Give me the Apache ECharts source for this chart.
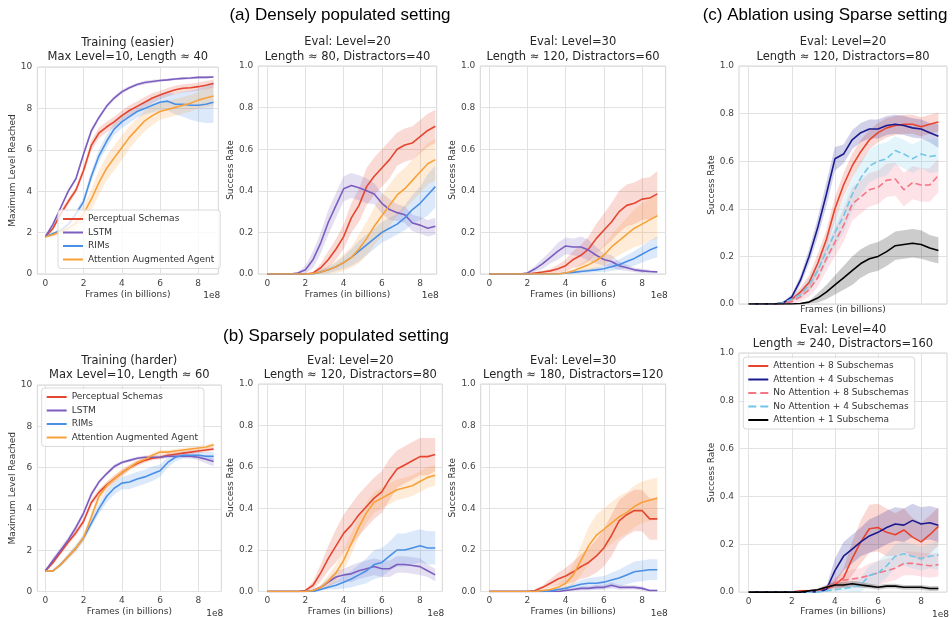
<!DOCTYPE html>
<html><head><meta charset="utf-8">
<script src="https://cdn.jsdelivr.net/npm/echarts/dist/echarts.min.js"></script>
<style>html,body{margin:0;padding:0;background:#fff}#c{width:952px;height:617px}</style>
</head><body><div id="c"></div>
<script>
// ---------- data ----------
const X = [0,0.4,0.8,1.2,1.6,2,2.4,2.8,3.2,3.6,4,4.4,4.8,5.2,5.6,6,6.4,6.8,7.2,7.6,8,8.4,8.8];
const X_TICKS = [0,2,4,6,8];
const NAME_PS = 'Perceptual Schemas', NAME_LSTM = 'LSTM', NAME_RIMS = 'RIMs', NAME_AAA = 'Attention Augmented Agent';
const NAME_A8 = 'Attention + 8 Subschemas', NAME_A4 = 'Attention + 4 Subschemas', NAME_NA8 = 'No Attention + 8 Subschemas', NAME_NA4 = 'No Attention + 4 Subschemas', NAME_A1 = 'Attention + 1 Subschema';

// (a) Training (easier)
const p1_ps     = [1.8,2.2,2.9,3.5,4.05,5.0,6.2,6.8,7.1,7.35,7.65,7.9,8.1,8.3,8.5,8.65,8.78,8.9,8.97,9.0,9.05,9.12,9.2];
const p1_ps_e   = [0.05,0.1,0.15,0.15,0.15,0.2,0.25,0.25,0.25,0.25,0.25,0.25,0.25,0.25,0.25,0.2,0.2,0.2,0.2,0.2,0.2,0.2,0.2];
const p1_lstm   = [1.8,2.4,3.2,4.0,4.6,5.8,6.9,7.55,8.1,8.5,8.8,9.0,9.15,9.25,9.3,9.35,9.38,9.42,9.45,9.47,9.5,9.5,9.52];
const p1_lstm_e = [0.05,0.1,0.1,0.1,0.1,0.15,0.15,0.1,0.1,0.1,0.1,0.08,0.08,0.08,0.08,0.06,0.06,0.06,0.06,0.06,0.06,0.06,0.06];
const p1_rims   = [1.8,1.95,2.1,2.4,2.9,3.5,4.7,5.7,6.4,7.0,7.35,7.6,7.85,8.0,8.15,8.3,8.35,8.2,8.2,8.15,8.15,8.2,8.3];
const p1_rims_e = [0.05,0.05,0.1,0.1,0.15,0.2,0.25,0.3,0.3,0.3,0.3,0.3,0.3,0.3,0.35,0.4,0.45,0.5,0.6,0.7,0.8,0.9,1.0];
const p1_aaa    = [1.8,1.9,2.05,2.2,2.45,2.9,3.6,4.4,5.1,5.6,6.1,6.6,7.0,7.4,7.65,7.85,7.95,8.05,8.15,8.25,8.4,8.5,8.6];
const p1_aaa_e  = [0.05,0.1,0.15,0.2,0.3,0.4,0.5,0.6,0.6,0.6,0.6,0.55,0.5,0.5,0.45,0.4,0.4,0.4,0.4,0.4,0.4,0.45,0.5];

// (a) Eval Level=20
const p2_ps     = [0,0,0,0,0,0,0.005,0.03,0.07,0.12,0.18,0.27,0.33,0.42,0.47,0.51,0.55,0.6,0.62,0.63,0.66,0.69,0.71];
const p2_ps_e   = [0,0,0,0,0,0,0.005,0.02,0.04,0.05,0.06,0.07,0.08,0.09,0.09,0.09,0.09,0.08,0.08,0.08,0.08,0.08,0.08];
const p2_lstm   = [0,0,0,0,0.005,0.02,0.07,0.15,0.25,0.33,0.41,0.425,0.415,0.4,0.385,0.34,0.31,0.295,0.285,0.245,0.235,0.22,0.23];
const p2_lstm_e = [0,0,0,0,0.005,0.02,0.04,0.05,0.06,0.06,0.06,0.06,0.06,0.06,0.05,0.05,0.05,0.04,0.04,0.04,0.04,0.04,0.04];
const p2_rims   = [0,0,0,0,0,0,0,0.01,0.02,0.035,0.055,0.08,0.11,0.14,0.17,0.2,0.22,0.24,0.27,0.31,0.34,0.38,0.42];
const p2_rims_e = [0,0,0,0,0,0,0,0.01,0.015,0.02,0.03,0.04,0.05,0.05,0.05,0.05,0.05,0.05,0.06,0.07,0.08,0.1,0.1];
const p2_aaa    = [0,0,0,0,0,0,0.002,0.01,0.02,0.035,0.055,0.08,0.12,0.17,0.23,0.28,0.33,0.38,0.41,0.45,0.49,0.53,0.55];
const p2_aaa_e  = [0,0,0,0,0,0,0.002,0.01,0.02,0.03,0.04,0.05,0.07,0.08,0.09,0.1,0.1,0.1,0.1,0.1,0.1,0.1,0.1];

// (a) Eval Level=30
const p3_ps     = [0,0,0,0,0,0,0.005,0.01,0.015,0.025,0.04,0.07,0.09,0.12,0.17,0.21,0.25,0.3,0.33,0.34,0.36,0.365,0.385];
const p3_ps_e   = [0,0,0,0,0,0,0.003,0.005,0.01,0.02,0.03,0.04,0.05,0.06,0.07,0.08,0.09,0.1,0.1,0.1,0.1,0.1,0.11];
const p3_lstm   = [0,0,0,0,0,0.005,0.025,0.05,0.08,0.11,0.135,0.13,0.13,0.115,0.09,0.07,0.06,0.04,0.03,0.02,0.015,0.012,0.01];
const p3_lstm_e = [0,0,0,0,0,0.005,0.015,0.025,0.03,0.04,0.04,0.04,0.05,0.05,0.04,0.03,0.03,0.02,0.015,0.01,0.01,0.008,0.005];
const p3_rims   = [0,0,0,0,0,0,0,0,0,0,0.005,0.008,0.012,0.016,0.02,0.025,0.035,0.045,0.06,0.075,0.095,0.115,0.13];
const p3_rims_e = [0,0,0,0,0,0,0,0,0,0,0.003,0.005,0.008,0.01,0.012,0.015,0.02,0.025,0.03,0.035,0.04,0.045,0.05];
const p3_aaa    = [0,0,0,0,0,0,0,0,0,0,0.005,0.015,0.03,0.045,0.065,0.09,0.13,0.16,0.19,0.22,0.24,0.26,0.28];
const p3_aaa_e  = [0,0,0,0,0,0,0,0,0,0,0.003,0.01,0.02,0.03,0.04,0.05,0.06,0.07,0.08,0.09,0.1,0.1,0.11];

// (b) Training (harder)
const p5_ps     = [1.0,1.4,1.9,2.4,2.85,3.4,4.3,4.8,5.15,5.45,5.75,6.0,6.2,6.35,6.45,6.5,6.6,6.65,6.7,6.75,6.8,6.85,6.9];
const p5_ps_e   = [0.05,0.1,0.12,0.15,0.15,0.15,0.15,0.15,0.15,0.15,0.15,0.12,0.12,0.12,0.1,0.1,0.1,0.1,0.1,0.1,0.1,0.1,0.1];
const p5_lstm   = [1.0,1.5,2.0,2.5,3.1,3.8,4.7,5.3,5.7,6.05,6.25,6.35,6.45,6.5,6.5,6.5,6.55,6.55,6.55,6.55,6.5,6.4,6.3];
const p5_lstm_e = [0.05,0.15,0.15,0.15,0.15,0.15,0.15,0.1,0.1,0.1,0.08,0.08,0.08,0.08,0.08,0.08,0.08,0.08,0.1,0.1,0.15,0.2,0.25];
const p5_rims   = [1.0,1.0,1.3,1.7,2.1,2.6,3.3,4.0,4.6,5.0,5.25,5.3,5.45,5.55,5.7,5.85,6.25,6.5,6.6,6.6,6.6,6.55,6.55];
const p5_rims_e = [0.05,0.05,0.1,0.1,0.15,0.15,0.2,0.25,0.3,0.3,0.3,0.35,0.35,0.35,0.35,0.3,0.25,0.2,0.15,0.15,0.15,0.2,0.2];
const p5_aaa    = [1.0,1.0,1.3,1.7,2.1,2.6,3.6,4.6,5.1,5.45,5.75,6.0,6.25,6.4,6.6,6.75,6.75,6.8,6.85,6.9,6.95,7.0,7.1];
const p5_aaa_e  = [0.05,0.05,0.1,0.15,0.2,0.2,0.25,0.25,0.2,0.2,0.2,0.15,0.15,0.12,0.12,0.12,0.1,0.1,0.1,0.1,0.1,0.1,0.1];

// (b) Eval Level=20
const p6_ps     = [0,0,0,0,0,0.005,0.03,0.09,0.16,0.22,0.28,0.32,0.37,0.41,0.45,0.48,0.54,0.59,0.61,0.63,0.65,0.65,0.66];
const p6_ps_e   = [0,0,0,0,0,0.005,0.02,0.04,0.06,0.08,0.09,0.1,0.1,0.1,0.1,0.1,0.1,0.09,0.09,0.09,0.09,0.09,0.08];
const p6_lstm   = [0,0,0,0,0,0,0.005,0.02,0.045,0.07,0.08,0.085,0.1,0.11,0.12,0.11,0.11,0.13,0.13,0.125,0.12,0.1,0.08];
const p6_lstm_e = [0,0,0,0,0,0,0.005,0.01,0.02,0.03,0.03,0.04,0.04,0.04,0.04,0.04,0.04,0.04,0.04,0.04,0.04,0.03,0.03];
const p6_rims   = [0,0,0,0,0,0,0,0.01,0.02,0.03,0.045,0.06,0.08,0.1,0.13,0.14,0.17,0.2,0.2,0.21,0.22,0.21,0.21];
const p6_rims_e = [0,0,0,0,0,0,0,0.005,0.01,0.02,0.03,0.04,0.05,0.06,0.07,0.07,0.07,0.08,0.08,0.08,0.08,0.08,0.08];
const p6_aaa    = [0,0,0,0,0,0,0.005,0.02,0.05,0.09,0.15,0.23,0.31,0.38,0.43,0.45,0.47,0.49,0.5,0.51,0.53,0.55,0.56];
const p6_aaa_e  = [0,0,0,0,0,0,0.005,0.01,0.03,0.04,0.05,0.05,0.05,0.05,0.05,0.05,0.05,0.05,0.05,0.05,0.05,0.05,0.05];

// (b) Eval Level=30
const p7_ps     = [0,0,0,0,0,0,0.005,0.02,0.04,0.06,0.075,0.095,0.12,0.14,0.17,0.21,0.27,0.34,0.37,0.39,0.39,0.35,0.35];
const p7_ps_e   = [0,0,0,0,0,0,0.005,0.01,0.02,0.03,0.04,0.05,0.06,0.07,0.08,0.09,0.1,0.1,0.1,0.1,0.1,0.1,0.1];
const p7_lstm   = [0,0,0,0,0,0,0,0,0,0,0.005,0.01,0.015,0.015,0.02,0.02,0.03,0.02,0.02,0.02,0.015,0.005,0.005];
const p7_lstm_e = [0,0,0,0,0,0,0,0,0,0,0.005,0.008,0.01,0.01,0.012,0.012,0.015,0.012,0.01,0.01,0.01,0.005,0.005];
const p7_rims   = [0,0,0,0,0,0,0,0,0.003,0.01,0.015,0.025,0.035,0.04,0.04,0.045,0.055,0.065,0.08,0.095,0.1,0.105,0.105];
const p7_rims_e = [0,0,0,0,0,0,0,0,0.003,0.008,0.01,0.015,0.02,0.025,0.03,0.03,0.035,0.04,0.045,0.05,0.05,0.05,0.05];
const p7_aaa    = [0,0,0,0,0,0,0,0.005,0.01,0.02,0.04,0.08,0.15,0.22,0.27,0.3,0.33,0.36,0.38,0.41,0.43,0.44,0.45];
const p7_aaa_e  = [0,0,0,0,0,0,0,0.005,0.01,0.02,0.03,0.05,0.07,0.09,0.1,0.1,0.1,0.1,0.1,0.1,0.1,0.1,0.1];

// (c) Eval Level=20
const p4_a8     = [0,0,0,0,0.005,0.02,0.05,0.09,0.17,0.27,0.4,0.5,0.58,0.64,0.69,0.72,0.74,0.75,0.755,0.755,0.745,0.755,0.765];
const p4_a8_e   = [0,0,0,0,0.005,0.01,0.02,0.03,0.04,0.04,0.05,0.05,0.05,0.05,0.04,0.04,0.04,0.04,0.04,0.04,0.04,0.04,0.04];
const p4_a4     = [0,0,0,0,0.005,0.03,0.1,0.2,0.32,0.46,0.61,0.63,0.69,0.72,0.735,0.735,0.75,0.755,0.75,0.74,0.735,0.72,0.705];
const p4_a4_e   = [0,0,0,0,0.005,0.01,0.02,0.03,0.04,0.05,0.05,0.04,0.04,0.04,0.04,0.04,0.04,0.04,0.04,0.04,0.04,0.04,0.05];
const p4_na8    = [0,0,0,0,0,0.01,0.03,0.06,0.11,0.19,0.26,0.33,0.42,0.45,0.48,0.49,0.52,0.525,0.48,0.51,0.5,0.5,0.54];
const p4_na8_e  = [0,0,0,0,0,0.01,0.02,0.03,0.04,0.05,0.06,0.07,0.07,0.07,0.07,0.07,0.07,0.07,0.07,0.07,0.07,0.07,0.07];
const p4_na4    = [0,0,0,0,0.005,0.02,0.04,0.08,0.14,0.22,0.3,0.37,0.46,0.53,0.58,0.6,0.61,0.645,0.63,0.61,0.63,0.62,0.625];
const p4_na4_e  = [0,0,0,0,0.005,0.01,0.02,0.03,0.04,0.05,0.06,0.07,0.07,0.07,0.07,0.07,0.07,0.06,0.06,0.06,0.06,0.07,0.07];
const p4_a1     = [0,0,0,0,0,0,0.002,0.008,0.025,0.05,0.08,0.11,0.14,0.17,0.19,0.2,0.22,0.245,0.25,0.255,0.25,0.235,0.225];
const p4_a1_e   = [0,0,0,0,0,0,0.002,0.005,0.02,0.03,0.04,0.05,0.06,0.06,0.06,0.06,0.06,0.06,0.06,0.06,0.06,0.055,0.055];

// (c) Eval Level=40
const p8_a8     = [0,0,0,0,0,0,0.005,0.005,0.008,0.015,0.03,0.06,0.14,0.21,0.265,0.27,0.25,0.24,0.26,0.23,0.21,0.24,0.275];
const p8_a8_e   = [0,0,0,0,0,0,0.005,0.005,0.005,0.01,0.02,0.04,0.07,0.09,0.1,0.1,0.1,0.09,0.09,0.08,0.08,0.08,0.08];
const p8_a4     = [0,0,0,0,0,0,0,0,0.002,0.01,0.09,0.15,0.18,0.21,0.235,0.25,0.27,0.285,0.28,0.3,0.285,0.29,0.28];
const p8_a4_e   = [0,0,0,0,0,0,0,0,0.002,0.01,0.05,0.06,0.06,0.06,0.07,0.07,0.07,0.07,0.07,0.07,0.07,0.07,0.07];
const p8_na8    = [0,0,0,0,0,0,0,0,0.005,0.02,0.04,0.05,0.055,0.06,0.07,0.08,0.09,0.1,0.12,0.12,0.115,0.11,0.115];
const p8_na8_e  = [0,0,0,0,0,0,0,0,0.005,0.01,0.02,0.03,0.04,0.04,0.05,0.05,0.05,0.05,0.05,0.05,0.05,0.05,0.05];
const p8_na4    = [0,0,0,0,0,0,0,0,0,0.005,0.01,0.015,0.02,0.03,0.07,0.08,0.11,0.15,0.16,0.15,0.14,0.15,0.155];
const p8_na4_e  = [0,0,0,0,0,0,0,0,0,0.005,0.01,0.01,0.02,0.03,0.04,0.05,0.05,0.05,0.05,0.05,0.05,0.05,0.06];
const p8_a1     = [0,0,0,0,0,0,0,0.005,0.01,0.02,0.03,0.03,0.035,0.03,0.025,0.02,0.025,0.025,0.02,0.02,0.02,0.015,0.015];
const p8_a1_e   = [0,0,0,0,0,0,0,0.003,0.005,0.01,0.012,0.012,0.012,0.012,0.01,0.01,0.01,0.01,0.01,0.01,0.01,0.01,0.01];

// ---------- styles ----------
const C = {ps:'#e4462f', lstm:'#7b5dbf', rims:'#4a8fe6', aaa:'#f8a13a',
           a8:'#e8432e', a4:'#1b1b8f', na8:'#f47585', na4:'#73c6e8', a1:'#000000'};
const FONT = 'DejaVu Sans';

const main4 = (ps,pse,l,le,r,re,a,ae)=>[
  [NAME_PS,ps,pse,C.ps,'solid'],[NAME_LSTM,l,le,C.lstm,'solid'],[NAME_RIMS,r,re,C.rims,'solid'],[NAME_AAA,a,ae,C.aaa,'solid']];
const abl5 = (a8,a8e,a4,a4e,n8,n8e,n4,n4e,a1,a1e)=>[
  [NAME_A8,a8,a8e,C.a8,'solid'],[NAME_A4,a4,a4e,C.a4,'solid'],[NAME_NA8,n8,n8e,C.na8,'dashed'],[NAME_NA4,n4,n4e,C.na4,'dashed'],[NAME_A1,a1,a1e,C.a1,'solid']];

const panels = [
 {left:37.3, top:67, w:181, h:207, xMin:-0.42, xMax:9.05, yMax:10, yInt:2, dec:0, yName:'Maximum Level Reached', yGap:20, xGap:16, xLab:true, e8:true,
  t:['Training (easier)','Max Level=10, Length \u2248 40'], t1:43, s: main4(p1_ps,p1_ps_e,p1_lstm,p1_lstm_e,p1_rims,p1_rims_e,p1_aaa,p1_aaa_e)},
 {left:258.3, top:66, w:178.4, h:208, xMin:-0.47, xMax:8.87, yMax:1, yInt:0.2, dec:1, yName:'Success Rate', yGap:22, xGap:16, xLab:true, e8:true,
  t:['Eval: Level=20','Length \u2248 80, Distractors=40'], t1:42.3, s: main4(p2_ps,p2_ps_e,p2_lstm,p2_lstm_e,p2_rims,p2_rims_e,p2_aaa,p2_aaa_e)},
 {left:480.3, top:66, w:185.4, h:208, xMin:-0.47, xMax:9.24, yMax:1, yInt:0.2, dec:1, yName:'Success Rate', yGap:22, xGap:16, xLab:true, e8:true,
  t:['Eval: Level=30','Length \u2248 120, Distractors=60'], t1:42.3, s: main4(p3_ps,p3_ps_e,p3_lstm,p3_lstm_e,p3_rims,p3_rims_e,p3_aaa,p3_aaa_e)},
 {left:739, top:66, w:208, h:238, xMin:-0.45, xMax:9.2, yMax:1, yInt:0.2, dec:1, yName:'Success Rate', yGap:23, xGap:1.5, xLab:false, e8:false,
  t:['Eval: Level=20','Length \u2248 120, Distractors=80'], t1:42.3, s: abl5(p4_a8,p4_a8_e,p4_a4,p4_a4_e,p4_na8,p4_na8_e,p4_na4,p4_na4_e,p4_a1,p4_a1_e)},
 {left:37.3, top:385, w:184, h:207, xMin:-0.42, xMax:9.2, yMax:10, yInt:2, dec:0, yName:'Maximum Level Reached', yGap:20, xGap:15.5, xLab:true, e8:true,
  t:['Training (harder)','Max Level=10, Length \u2248 60'], t1:361, s: main4(p5_ps,p5_ps_e,p5_lstm,p5_lstm_e,p5_rims,p5_rims_e,p5_aaa,p5_aaa_e)},
 {left:258.3, top:384, w:184, h:208, xMin:-0.47, xMax:9.17, yMax:1, yInt:0.2, dec:1, yName:'Success Rate', yGap:22, xGap:15.5, xLab:true, e8:true,
  t:['Eval: Level=20','Length \u2248 120, Distractors=80'], t1:361, s: main4(p6_ps,p6_ps_e,p6_lstm,p6_lstm_e,p6_rims,p6_rims_e,p6_aaa,p6_aaa_e)},
 {left:480.7, top:384, w:185, h:208, xMin:-0.45, xMax:9.24, yMax:1, yInt:0.2, dec:1, yName:'Success Rate', yGap:23, xGap:15.5, xLab:true, e8:true,
  t:['Eval: Level=30','Length \u2248 180, Distractors=120'], t1:361, s: main4(p7_ps,p7_ps_e,p7_lstm,p7_lstm_e,p7_rims,p7_rims_e,p7_aaa,p7_aaa_e)},
 {left:739, top:353, w:208, h:240, xMin:-0.45, xMax:9.2, yMax:1, yInt:0.2, dec:1, yName:'Success Rate', yGap:23, xGap:14.5, xLab:true, e8:true,
  t:['Eval: Level=40','Length \u2248 240, Distractors=160'], t1:330, s: abl5(p8_a8,p8_a8_e,p8_a4,p8_a4_e,p8_na8,p8_na8_e,p8_na4,p8_na4_e,p8_a1,p8_a1_e)}
];

const grids=[], xAxes=[], yAxes=[], series=[], graphics=[];
const bands=[], lines=[];
panels.forEach((p,i)=>{
  grids.push({left:p.left, top:p.top, width:p.w, height:p.h, show:true, borderColor:'#d4d4d4', borderWidth:1, backgroundColor:'#ffffff', containLabel:false});
  xAxes.push({type:'value', gridIndex:i, min:p.xMin, max:p.xMax,
    axisLine:{show:false}, axisTick:{show:false, customValues:X_TICKS},
    axisLabel:{show:p.xLab, customValues:X_TICKS, fontFamily:FONT, fontSize:9, color:'#444444', margin:5},
    splitLine:{show:true, lineStyle:{color:'#e2e2e2', width:1}},
    name:'Frames (in billions)', nameLocation:'middle', nameGap:p.xGap,
    nameTextStyle:{fontFamily:FONT, fontSize:9, color:'#333333'}});
  yAxes.push({type:'value', gridIndex:i, min:0, max:p.yMax, interval:p.yInt,
    axisLine:{show:false}, axisTick:{show:false},
    axisLabel:{fontFamily:FONT, fontSize:9, color:'#444444', margin:5, formatter:v=>p.dec? v.toFixed(1): String(Math.round(v))},
    splitLine:{show:true, lineStyle:{color:'#e2e2e2', width:1}},
    name:p.yName, nameLocation:'middle', nameGap:p.yGap,
    nameTextStyle:{fontFamily:FONT, fontSize:9, color:'#333333'}});
  const cx = p.left + p.w/2;
  graphics.push({type:'text', x:cx, y:p.t1, style:{text:p.t[0], font:'11.5px "DejaVu Sans"', fill:'#262626', align:'center', verticalAlign:'middle'}});
  graphics.push({type:'text', x:cx, y:p.t1+14.5, style:{text:p.t[1], font:'11.5px "DejaVu Sans"', fill:'#262626', align:'center', verticalAlign:'middle'}});
  if (p.e8) graphics.push({type:'text', x:p.left+p.w+2, y:p.top+p.h+21.5, style:{text:'1e8', font:'9px "DejaVu Sans"', fill:'#333333', align:'right', verticalAlign:'middle'}});
  p.s.forEach((s)=>{
    const [name,m,e,color,ltype]=s;
    const bandData = X.map((x,k)=>[x, Math.max(0, m[k]-e[k]), m[k]+e[k]]);
    bands.push({type:'custom', xAxisIndex:i, yAxisIndex:i, data:bandData, silent:true, z:1, clip:true,
      encode:{x:0, y:[1,2]},
      renderItem:(params, api)=>{
        if (params.dataIndexInside !== 0) return null;
        const n = params.dataInsideLength, up=[], lo=[];
        for (let k=0;k<n;k++){
          up.push(api.coord([api.value(0,k), api.value(2,k)]));
          lo.push(api.coord([api.value(0,k), api.value(1,k)]));
        }
        return {type:'polygon', shape:{points: up.concat(lo.reverse())}, style:{fill:color, opacity:0.2}, silent:true};
      }});
    lines.push({type:'line', name, xAxisIndex:i, yAxisIndex:i, data:X.map((x,k)=>[x,m[k]]),
      symbol:'none', showSymbol:false, silent:true, z:3,
      lineStyle:{color, width:1.6, type:ltype}, itemStyle:{color}});
  });
});
series.push(...bands, ...lines);

// section headings
graphics.push({type:'text', x:340, y:15, style:{text:'(a) Densely populated setting', font:'17px "Liberation Sans"', fill:'#000', align:'center', verticalAlign:'middle'}});
graphics.push({type:'text', x:336, y:336, style:{text:'(b) Sparsely populated setting', font:'17px "Liberation Sans"', fill:'#000', align:'center', verticalAlign:'middle'}});
graphics.push({type:'text', x:825, y:15, style:{text:'(c) Ablation using Sparse setting', font:'17px "Liberation Sans"', fill:'#000', align:'center', verticalAlign:'middle'}});

const legendBase = {orient:'vertical', itemWidth:20, itemHeight:10, itemGap:3.5, padding:[4,6,4,4],
  backgroundColor:'rgba(255,255,255,0.8)', borderColor:'#d9d9d9', borderWidth:1, borderRadius:3,
  textStyle:{fontFamily:FONT, fontSize:9, color:'#333333', lineHeight:10}, itemStyle:{opacity:0}, selectedMode:false, z:10};
const legends = [
  Object.assign({}, legendBase, {data:[NAME_PS,NAME_LSTM,NAME_RIMS,NAME_AAA], left:58, top:210}),
  Object.assign({}, legendBase, {data:[NAME_PS,NAME_LSTM,NAME_RIMS,NAME_AAA], left:41.7, top:388}),
  Object.assign({}, legendBase, {data:[NAME_A8,NAME_A4,NAME_NA8,NAME_NA4,NAME_A1], left:743.3, top:357})
];

const chart = echarts.init(document.getElementById('c'), null, {renderer:'canvas', width:952, height:617});
chart.setOption({
  animation:false, backgroundColor:'#ffffff',
  grid:grids, xAxis:xAxes, yAxis:yAxes, series, legend:legends, graphic:{elements:graphics}
});
</script>
</body></html>
